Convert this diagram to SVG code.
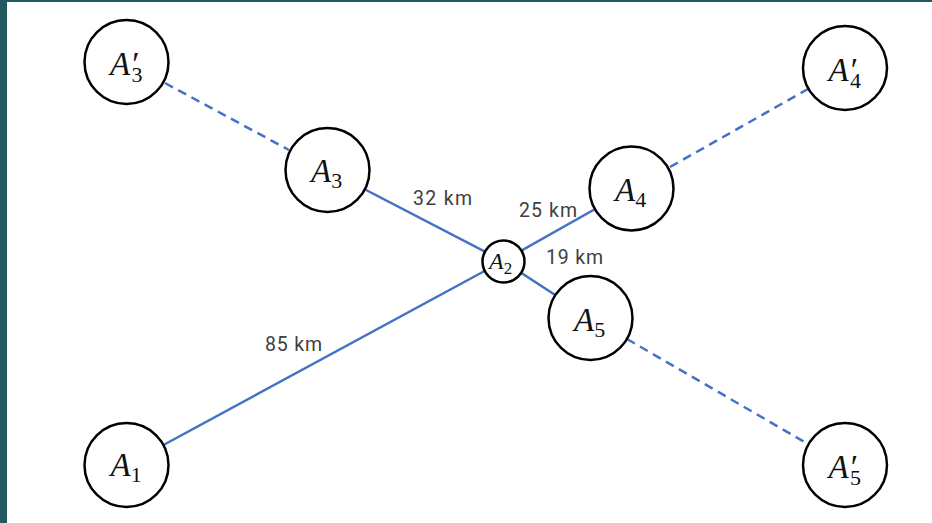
<svg xmlns="http://www.w3.org/2000/svg" width="932" height="523" viewBox="0 0 932 523">
<style>
.node{fill:#fff;stroke:#000;stroke-width:2.5}
.solid{stroke:#4472C4;stroke-width:2.5;fill:none}
.dash{stroke:#4472C4;stroke-width:2.5;fill:none;stroke-dasharray:9 6}
.m{font-family:"Liberation Serif","DejaVu Serif",serif;font-style:italic;fill:#111}
.big{font-size:33px}
.sub{font-size:22px;font-style:normal}
.big2{font-size:24px}
.sub2{font-size:17px;font-style:normal}
.km{font-family:Roboto,"Noto Sans",sans-serif;font-size:19.5px;fill:#404040}
</style>
<rect x="0" y="0" width="932" height="523" fill="#fff"/>
<rect x="0" y="0" width="7" height="523" fill="#235a62"/>
<rect x="0" y="0" width="932" height="2" fill="#235a62"/>
<g id="connectors">
<line class="solid" x1="126.5" y1="465" x2="503" y2="261"/>
<line class="solid" x1="327.5" y1="170" x2="503" y2="261"/>
<line class="solid" x1="503" y1="261" x2="631.5" y2="188.5"/>
<line class="solid" x1="503" y1="261" x2="590.5" y2="318"/>
<line class="dash" x1="165" y1="83" x2="289" y2="150"/>
<line class="dash" x1="670" y1="167" x2="808" y2="89"/>
<line class="dash" x1="627" y1="339" x2="808" y2="444"/>
<text class="km" x="413" y="205" textLength="59">32 km</text>
<text class="km" x="519" y="217" textLength="58">25 km</text>
<text class="km" x="546" y="264" textLength="57">19 km</text>
<text class="km" x="265" y="351" textLength="57">85 km</text>
</g>
<g id="A3p">
<circle class="node" cx="126.5" cy="62" r="42"/>
<text class="m big" x="110" y="75">A′<tspan class="sub" dx="-6" dy="7">3</tspan></text>
</g>
<g id="A4p">
<circle class="node" cx="845" cy="68" r="42"/>
<text class="m big" x="828.5" y="81">A′<tspan class="sub" dx="-6" dy="7">4</tspan></text>
</g>
<g id="A5p">
<circle class="node" cx="845" cy="465" r="42"/>
<text class="m big" x="828.5" y="478">A′<tspan class="sub" dx="-6" dy="7">5</tspan></text>
</g>
<g id="A3">
<circle class="node" cx="327.5" cy="170" r="42"/>
<text class="m big" x="311" y="182">A<tspan class="sub" dy="6">3</tspan></text>
</g>
<g id="A4">
<circle class="node" cx="631.5" cy="188.5" r="42"/>
<text class="m big" x="615" y="201">A<tspan class="sub" dy="6">4</tspan></text>
</g>
<g id="A5">
<circle class="node" cx="590.5" cy="318" r="42"/>
<text class="m big" x="574" y="331">A<tspan class="sub" dy="6">5</tspan></text>
</g>
<g id="A1">
<circle class="node" cx="126.5" cy="465" r="42"/>
<text class="m big" x="110.5" y="476">A<tspan class="sub" dy="6">1</tspan></text>
</g>
<g id="A2">
<circle class="node" cx="503.5" cy="261.5" r="21"/>
<text class="m big2" x="489" y="269">A<tspan class="sub2" dy="5">2</tspan></text>
</g>
</svg>
